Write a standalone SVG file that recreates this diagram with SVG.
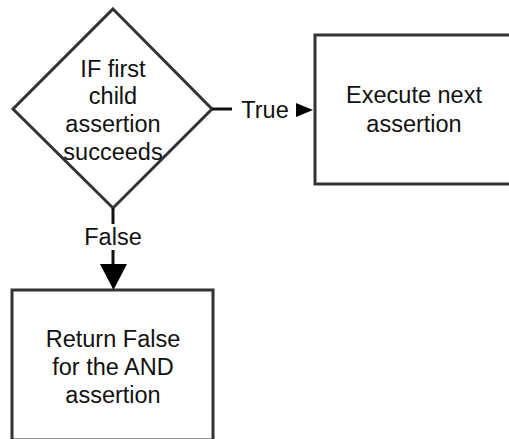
<svg xmlns="http://www.w3.org/2000/svg" width="509" height="439" viewBox="0 0 509 439">
<style>
.shape{fill:#fff;stroke:#333;stroke-width:3}
.t{font-family:"Liberation Sans",Arial,sans-serif;font-size:23.5px;fill:#111;text-anchor:middle}
.c{stroke:#111;stroke-width:3;fill:none}
.ah{fill:#000}
</style>
<rect width="509" height="439" fill="#fff"/>
<g id="decision">
<polygon class="shape" points="113,9 212,109 113,208 13,109"/>
<text class="t" x="113" y="77">IF first</text>
<text class="t" x="113" y="104">child</text>
<text class="t" x="113" y="132">assertion</text>
<text class="t" x="113" y="160">succeeds</text>
</g>
<g id="execute">
<rect class="shape" x="315" y="35" width="200" height="149"/>
<text class="t" x="414" y="103">Execute next</text>
<text class="t" x="414" y="132">assertion</text>
</g>
<g id="returnfalse">
<rect class="shape" x="12" y="290" width="201" height="150"/>
<text class="t" x="113" y="347">Return False</text>
<text class="t" x="113" y="375">for the AND</text>
<text class="t" x="113" y="403">assertion</text>
</g>
<g id="connectors">
<line class="c" x1="212" y1="109" x2="232" y2="109"/>
<text class="t" x="265" y="118">True</text>
<polygon class="ah" points="296,103 313,110 296,117"/>
<line class="c" x1="113" y1="208" x2="113" y2="224"/>
<text class="t" x="113" y="245">False</text>
<line class="c" x1="113" y1="250" x2="113" y2="266"/>
<polygon class="ah" points="100,264 127,264 113.5,290"/>
</g>
</svg>
